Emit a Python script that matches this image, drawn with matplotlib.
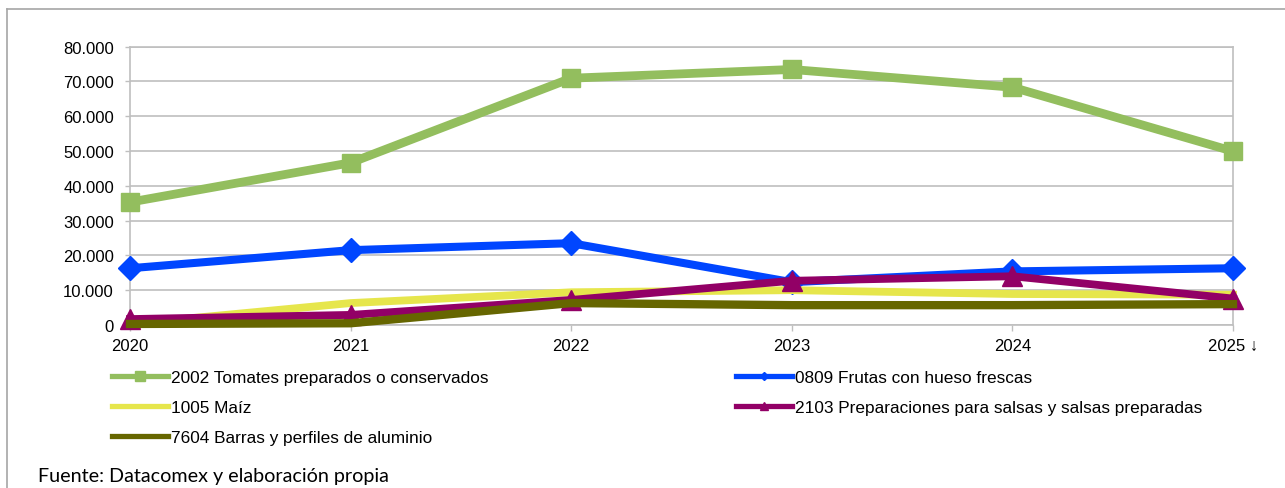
import matplotlib
matplotlib.use("Agg")
import matplotlib.pyplot as plt
from matplotlib.lines import Line2D
from matplotlib.ticker import FuncFormatter, MultipleLocator

plt.rcParams['font.family'] = ['Liberation Sans', 'DejaVu Sans']

years = [2020, 2021, 2022, 2023, 2024, 2025]
year_labels = ["2020", "2021", "2022", "2023", "2024", "2025 \u2193"]

tomates = [35300, 46600, 70900, 73400, 68300, 49900]
frutas = [16300, 21500, 23500, 12300, 15400, 16300]
maiz = [300, 6300, 9400, 10000, 8900, 8700]
salsas = [1700, 2900, 7200, 12700, 14000, 7600]
aluminio = [300, 500, 6300, 5700, 5700, 6000]

names = {
    "tomates": "2002 Tomates preparados o conservados",
    "frutas": "0809 Frutas con hueso frescas",
    "maiz": "1005 Maíz",
    "salsas": "2103 Preparaciones para salsas y salsas preparadas",
    "aluminio": "7604 Barras y perfiles de aluminio",
}

c_green = "#93BE5E"
c_blue = "#0046FF"
c_yellow = "#E6E64C"
c_mag = "#920066"
c_olive = "#666600"

W, H = 1285, 489
fig = plt.figure(figsize=(W / 100, H / 100), dpi=100)
ax = fig.add_axes([130 / W, 1 - 326 / H, (1233 - 130) / W, (326 - 47.5) / H])

x = list(range(len(years)))
ax.plot(x, tomates, color=c_green, lw=6.3, marker='s', ms=13.5, zorder=3,
        label=names["tomates"], clip_on=False)
ax.plot(x, frutas, color=c_blue, lw=5.8, marker='D', ms=12, zorder=3,
        label=names["frutas"], clip_on=False)
ax.plot(x, maiz, color=c_yellow, lw=5.6, zorder=3, label=names["maiz"], clip_on=False)
ax.plot(x, salsas, color=c_mag, lw=5.6, marker='^', ms=15, zorder=3,
        label=names["salsas"], clip_on=False)
ax.plot(x, aluminio, color=c_olive, lw=6.0, zorder=3, label=names["aluminio"], clip_on=False)

ax.set_xlim(0, len(years) - 1)
ax.set_ylim(0, 80000)
ax.yaxis.set_major_locator(MultipleLocator(10000))
ax.yaxis.set_major_formatter(FuncFormatter(lambda v, p: f"{int(v):,}".replace(",", ".")))
ax.set_xticks(x)
ax.set_xticklabels(year_labels)
ax.grid(axis='y', color='#BFBFBF', lw=1.2, zorder=0)
for s in ['left', 'right', 'top', 'bottom']:
    ax.spines[s].set_color('#BFBFBF')
    ax.spines[s].set_linewidth(1.2)
ax.tick_params(axis='y', length=3.6, width=1, color='#BFBFBF', pad=8, labelsize=12,
               labelcolor='black')
ax.tick_params(axis='x', length=4.3, width=1, color='#BFBFBF', pad=5, labelsize=12,
               labelcolor='black')

# Legend (two columns, filled column-wise)
handles = [
    Line2D([], [], color=c_green, lw=3.8, marker='s', ms=6.5),
    Line2D([], [], color=c_yellow, lw=3.8),
    Line2D([], [], color=c_olive, lw=3.8),
    Line2D([], [], color=c_blue, lw=3.8, marker='D', ms=4),
    Line2D([], [], color=c_mag, lw=3.8, marker='^', ms=6),
]
labels = [names["tomates"], names["maiz"], names["aluminio"], names["frutas"], names["salsas"]]
fig.legend(handles, labels, ncol=2, loc='upper left', bbox_to_anchor=(112 / W, 1 - 371 / H),
           frameon=False, fontsize=12.4, handlelength=3.25, handletextpad=0.2,
           columnspacing=14.35, labelspacing=0.87, borderaxespad=0, borderpad=0)

# Outer frame lines
fig.add_artist(Line2D([7 / W, 1], [1 - 10 / H, 1 - 10 / H], transform=fig.transFigure,
                      color='#A6A6A6', lw=1.2))
fig.add_artist(Line2D([7 / W, 7 / W], [1 - 10 / H, 0], transform=fig.transFigure,
                      color='#A6A6A6', lw=1.2))

fig.text(38 / W, 1 - 477 / H, "Fuente: Datacomex y elaboración propia", fontsize=14.2,
         family=['Lato', 'DejaVu Sans'], va='center', ha='left')

fig.savefig("out.png", dpi=100)
